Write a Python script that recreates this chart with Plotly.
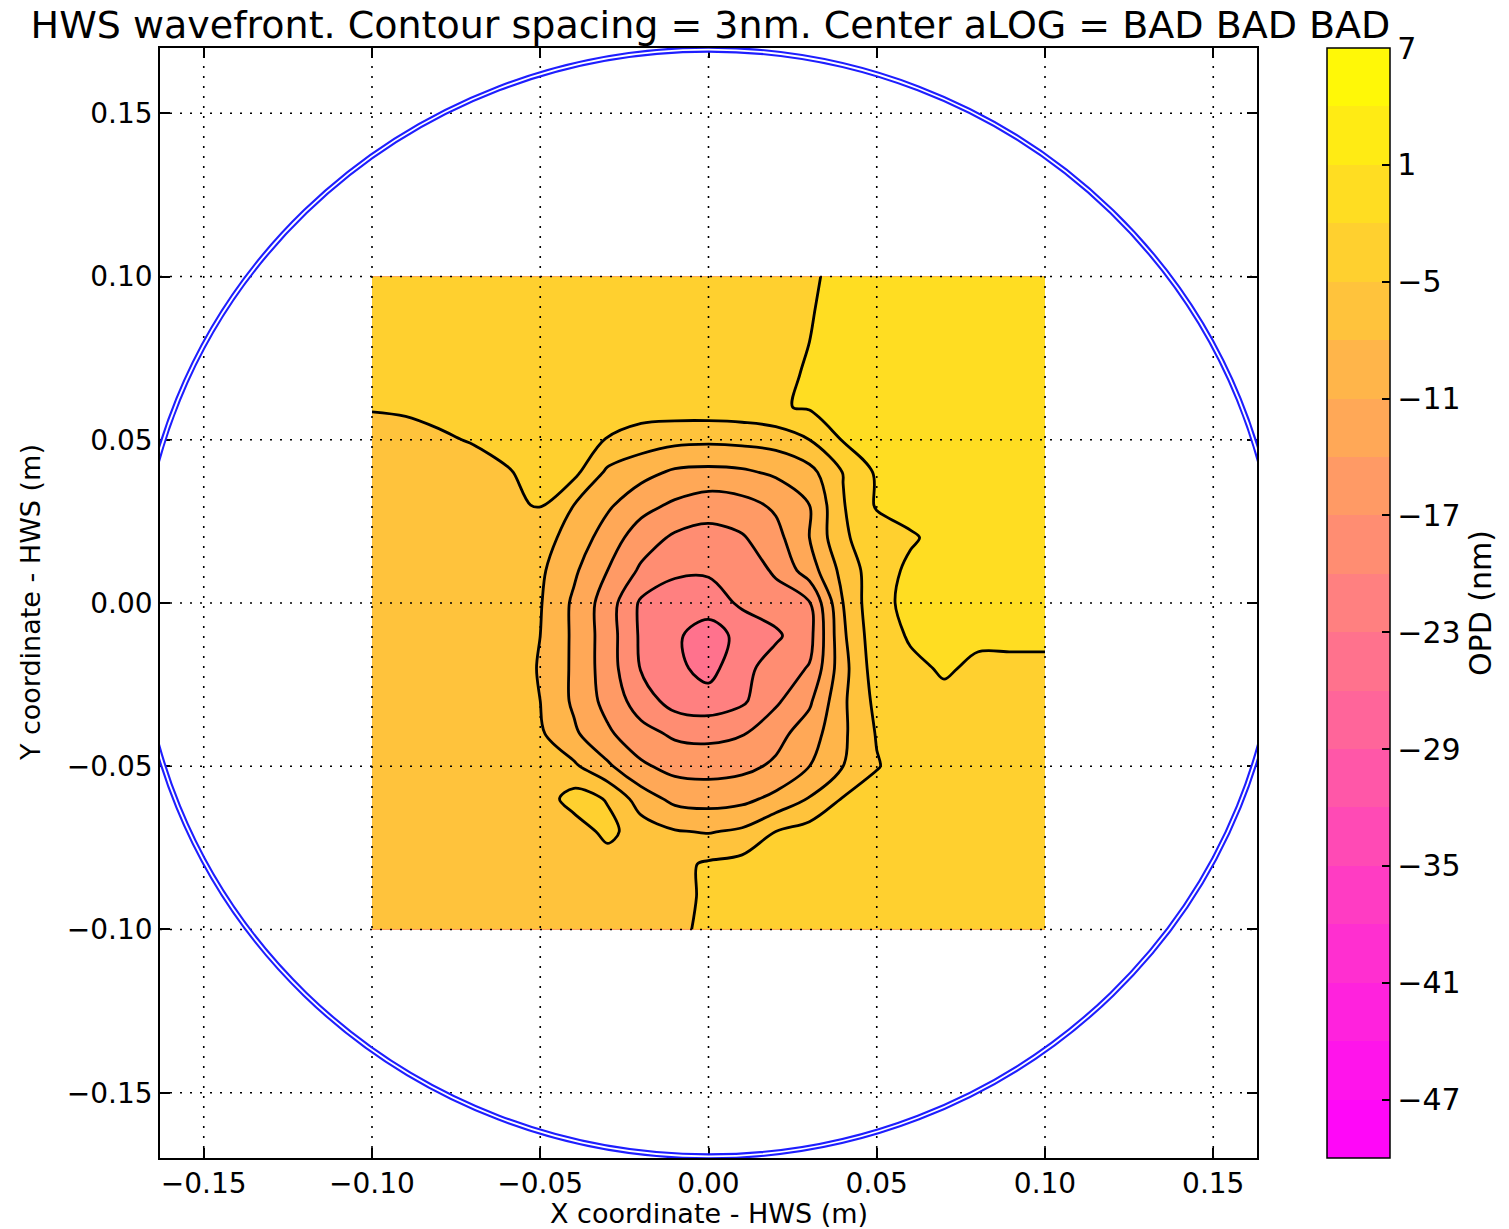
import plotly.graph_objects as go

# Hartmann wavefront sensor OPD map (nm) on a 1 cm grid
x_m = [-0.10, -0.09, -0.08, -0.07, -0.06, -0.05, -0.04, -0.03, -0.02, -0.01, 0.00,
       0.01, 0.02, 0.03, 0.04, 0.05, 0.06, 0.07, 0.08, 0.09, 0.10]
y_m = [0.10, 0.09, 0.08, 0.07, 0.06, 0.05, 0.04, 0.03, 0.02, 0.01, 0.00,
       -0.01, -0.02, -0.03, -0.04, -0.05, -0.06, -0.07, -0.08, -0.09, -0.10]

# rows follow y_m (top to bottom), columns follow x_m (left to right)
opd_nm = [
    [-3.5, -3.5, -3.4, -3.4, -3.3, -3.3, -3.2, -3.1, -3.0, -2.9, -2.8, -2.6, -2.4, -2.2, -1.6, -1.0, -0.6, -0.4, -0.3, -0.2, -0.2],
    [-3.5, -3.5, -3.5, -3.4, -3.4, -3.3, -3.3, -3.2, -3.1, -3.0, -2.9, -2.7, -2.5, -2.1, -1.5, -1.0, -0.6, -0.4, -0.3, -0.2, -0.2],
    [-3.6, -3.6, -3.6, -3.5, -3.5, -3.4, -3.4, -3.3, -3.2, -3.1, -3.0, -2.8, -2.6, -2.0, -1.5, -1.0, -0.6, -0.4, -0.3, -0.2, -0.2],
    [-3.8, -3.8, -3.8, -3.7, -3.7, -3.6, -3.5, -3.4, -3.3, -3.2, -3.1, -2.9, -2.5, -1.8, -1.5, -1.0, -0.6, -0.4, -0.3, -0.2, -0.2],
    [-4.9, -4.8, -4.6, -4.4, -4.2, -4.0, -3.8, -3.6, -3.5, -3.4, -3.3, -3.1, -2.3, -1.7, -1.4, -1.0, -0.6, -0.4, -0.3, -0.2, -0.2],
    [-5.6, -5.5, -5.2, -4.9, -4.6, -4.3, -4.3, -5.1, -6.5, -7.2, -7.4, -7.2, -6.8, -5.0, -1.8, -1.2, -0.8, -0.5, -0.4, -0.3, -0.3],
    [-6.0, -5.9, -5.8, -5.6, -5.1, -4.6, -4.2, -8.6, -10.0, -11.5, -11.8, -11.5, -10.5, -9.0, -4.9, -1.6, -0.9, -0.6, -0.4, -0.3, -0.3],
    [-6.2, -6.1, -6.0, -5.8, -5.5, -4.8, -8.0, -10.5, -13.0, -14.5, -15.6, -15.0, -13.5, -11.0, -5.2, -1.7, -1.0, -0.6, -0.4, -0.3, -0.3],
    [-6.3, -6.2, -6.1, -6.0, -5.9, -7.0, -9.0, -12.5, -15.5, -17.5, -18.1, -17.3, -15.0, -11.0, -5.4, -3.5, -2.3, -1.2, -0.7, -0.5, -0.4],
    [-6.4, -6.3, -6.2, -6.1, -6.0, -7.5, -10.5, -14.0, -17.5, -19.5, -19.6, -19.0, -16.5, -12.5, -7.0, -3.2, -1.5, -1.0, -0.9, -0.8, -0.8],
    [-6.5, -6.4, -6.3, -6.2, -6.2, -7.8, -11.5, -15.5, -20.5, -21.5, -21.5, -19.5, -18.5, -17.2, -8.0, -2.6, -1.5, -1.5, -1.5, -1.5, -1.5],
    [-6.6, -6.5, -6.4, -6.3, -6.3, -8.0, -11.5, -15.5, -20.5, -22.5, -24.5, -22.0, -20.5, -18.0, -8.5, -3.0, -1.8, -1.8, -1.7, -1.7, -1.7],
    [-6.7, -6.6, -6.5, -6.4, -6.4, -8.2, -11.5, -15.5, -20.2, -22.3, -24.0, -21.0, -18.5, -16.8, -9.0, -3.4, -2.4, -1.8, -2.3, -2.3, -2.3],
    [-6.8, -6.7, -6.6, -6.5, -6.5, -8.0, -11.5, -15.0, -18.5, -21.2, -21.8, -20.5, -17.5, -14.5, -8.5, -4.2, -3.0, -2.4, -2.8, -2.8, -2.8],
    [-6.9, -6.8, -6.7, -6.6, -6.6, -7.6, -10.5, -13.5, -16.0, -17.5, -17.8, -17.2, -15.0, -12.5, -8.5, -4.8, -3.2, -2.8, -3.0, -3.0, -3.0],
    [-7.0, -6.9, -6.8, -6.7, -6.7, -6.8, -7.5, -10.5, -13.5, -15.0, -15.2, -14.8, -13.5, -11.0, -8.0, -5.2, -3.4, -3.0, -3.2, -3.2, -3.2],
    [-7.1, -7.0, -6.9, -6.8, -6.8, -6.6, -3.8, -5.2, -9.5, -11.8, -12.2, -11.8, -10.2, -7.8, -4.8, -3.6, -3.4, -3.3, -3.3, -3.3, -3.3],
    [-7.2, -7.1, -7.0, -6.9, -6.9, -6.8, -6.5, -4.2, -6.5, -7.8, -8.2, -7.5, -5.0, -3.8, -3.5, -3.4, -3.4, -3.4, -3.4, -3.4, -3.4],
    [-7.2, -7.2, -7.1, -7.0, -7.0, -6.9, -6.7, -6.4, -6.2, -5.8, -4.6, -4.0, -3.8, -3.7, -3.6, -3.5, -3.5, -3.4, -3.4, -3.4, -3.4],
    [-7.3, -7.3, -7.2, -7.1, -7.0, -6.9, -6.7, -6.5, -6.3, -5.9, -4.5, -4.0, -3.8, -3.7, -3.6, -3.5, -3.5, -3.4, -3.4, -3.4, -3.4],
    [-7.3, -7.3, -7.2, -7.1, -7.0, -6.9, -6.7, -6.5, -6.3, -5.6, -4.4, -4.0, -3.8, -3.7, -3.6, -3.5, -3.5, -3.4, -3.4, -3.4, -3.4],
]

# contour levels: 3 nm spacing from -50 to 7 nm
level_start = -50
level_end = 7
level_step = 3
cbar_ticks = [7, 1, -5, -11, -17, -23, -29, -35, -41, -47]

axis_ticks = [-0.15, -0.10, -0.05, 0.00, 0.05, 0.10, 0.15]
axis_ticktext = ["\u22120.15", "\u22120.10", "\u22120.05", "0.00", "0.05", "0.10", "0.15"]

aperture_radius = 0.1695
x_view = [-0.163, 0.163]
y_view = [-0.170, 0.170]

FONT = "DejaVu Sans"
TICK_SIZE = 28
LABEL_SIZE = 27
spring = [[0.0, "rgb(255,0,255)"], [1.0, "rgb(255,255,0)"]]
SMOOTH = 1.0

x_asc = x_m
y_asc = list(reversed(y_m))
z_asc = list(reversed(opd_nm))
levels = dict(start=level_start, end=level_end, size=level_step)

fig = go.Figure()

# filled bands (carries the colour bar)
fig.add_trace(go.Contour(
    x=x_asc, y=y_asc, z=z_asc,
    zmin=level_start, zmax=level_end,
    autocontour=False,
    contours=dict(coloring="fill", **levels),
    colorscale=spring,
    line=dict(width=0, smoothing=SMOOTH),
    colorbar=dict(
        x=(1327 - 160) / 1098, xanchor="left", xpad=0,
        y=0.5, yanchor="middle", ypad=0,
        len=1.0, lenmode="fraction",
        thickness=63, thicknessmode="pixels",
        outlinecolor="black", outlinewidth=1.5,
        tickvals=cbar_ticks,
        ticktext=[("\u2212" + str(abs(v))) if v < 0 else str(v) for v in cbar_ticks],
        ticks="inside", ticklen=8, tickwidth=1.5, tickcolor="black",
        tickfont=dict(family=FONT, size=30, color="black"),
        title=dict(text="OPD (nm)", side="right", font=dict(family=FONT, size=30, color="black")),
    ),
    hoverinfo="skip",
))

# black iso-lines at the same levels
fig.add_trace(go.Contour(
    x=x_asc, y=y_asc, z=z_asc,
    autocontour=False,
    contours=dict(coloring="none", **levels),
    line=dict(color="black", width=2.8, smoothing=SMOOTH),
    showscale=False,
    hoverinfo="skip",
))

shapes = []
# dotted grid drawn over the map
for v in axis_ticks:
    shapes.append(dict(type="line", xref="x", yref="paper", x0=v, x1=v, y0=0, y1=1,
                       line=dict(color="black", width=1.6, dash="2px,8px"), layer="above"))
    shapes.append(dict(type="line", xref="paper", yref="y", x0=0, x1=1, y0=v, y1=v,
                       line=dict(color="black", width=1.6, dash="2px,8px"), layer="above"))
# aperture outline (double blue ring)
shapes.append(dict(type="circle", xref="x", yref="y",
                   x0=-aperture_radius, x1=aperture_radius, y0=-aperture_radius, y1=aperture_radius,
                   line=dict(color="rgb(30,30,255)", width=6), layer="above"))
shapes.append(dict(type="circle", xref="x", yref="y",
                   x0=-aperture_radius, x1=aperture_radius, y0=-aperture_radius, y1=aperture_radius,
                   line=dict(color="white", width=1.8), layer="above"))

axis_common = dict(
    tickvals=axis_ticks, ticktext=axis_ticktext,
    ticks="inside", ticklen=10, tickwidth=1.5, tickcolor="black",
    showline=True, linecolor="black", linewidth=1.5, mirror="allticks",
    showgrid=False, zeroline=False,
    tickfont=dict(family=FONT, size=TICK_SIZE, color="black"),
)

fig.update_layout(
    width=1509, height=1229,
    margin=dict(l=160, r=251, t=48, b=71),
    paper_bgcolor="white", plot_bgcolor="white",
    font=dict(family=FONT, color="black"),
    title=dict(text="HWS wavefront. Contour spacing = 3nm. Center aLOG = BAD BAD BAD",
               x=(711 - 160) / 1098, xref="paper", xanchor="center",
               y=1 - 25 / 1229, yref="container", yanchor="middle",
               font=dict(family=FONT, size=38, color="black")),
    xaxis=dict(range=x_view, **axis_common),
    yaxis=dict(range=y_view, **axis_common),
    shapes=shapes,
    annotations=[
        dict(text="X coordinate - HWS (m)", xref="paper", yref="paper",
             x=0.5, y=-(1213 - 1158) / 1110, xanchor="center", yanchor="middle",
             showarrow=False, font=dict(family=FONT, size=LABEL_SIZE, color="black")),
        dict(text="Y coordinate - HWS (m)", xref="paper", yref="paper",
             x=-(160 - 30) / 1098, y=0.5, xanchor="center", yanchor="middle", textangle=-90,
             showarrow=False, font=dict(family=FONT, size=LABEL_SIZE, color="black")),
    ],
)

fig.write_html("out.html")
